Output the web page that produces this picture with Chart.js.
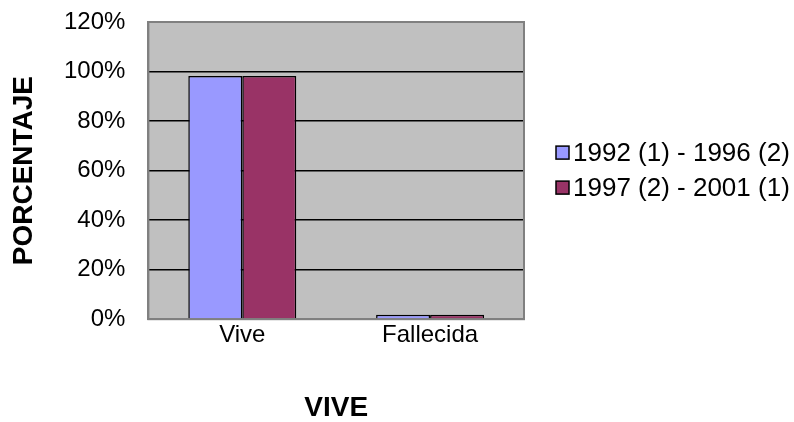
<html>
<head>
    <meta charset="utf-8">
    <title>Vive</title>
    <style>
        body { margin: 0; background: #fff; }
        #wrap { width: 794px; height: 422px; position: relative; }
    </style>
</head>
<body>
    <div id="wrap"><canvas id="myChart"></canvas></div>
</body>
<script src="https://cdn.jsdelivr.net/npm/chart.js"></script>
<script>
    const categories = ['Vive', 'Fallecida']
    const serie1 = [98.2, 1.8]   // 1992 (1) - 1996 (2)
    const serie2 = [98.2, 1.8]   // 1997 (2) - 2001 (1)
    const seriesNames = ['1992 (1) - 1996 (2)', '1997 (2) - 2001 (1)']
    const yTicks = [0, 20, 40, 60, 80, 100, 120]

    const FONT = "'Liberation Sans', Arial, sans-serif"
    Chart.defaults.font.family = FONT
    Chart.defaults.color = '#000'

    // grey plot area with a grey frame, like the old office chart
    const plotBack = {
        id: 'plotBack',
        beforeDraw(chart) {
            const { ctx, chartArea: a } = chart
            ctx.save()
            ctx.fillStyle = '#c0c0c0'
            ctx.fillRect(a.left, a.top, a.width, a.height)
            ctx.restore()
        },
        afterDraw(chart) {
            const { ctx, chartArea: a } = chart
            ctx.save()
            ctx.strokeStyle = '#808080'
            ctx.lineWidth = 2
            ctx.strokeRect(a.left, a.top, a.width, a.height)
            ctx.restore()
        }
    }

    // legend drawn by hand to the right of the plot (box close to the text)
    const sideLegend = {
        id: 'sideLegend',
        afterDraw(chart) {
            const { ctx, chartArea: a } = chart
            const x = a.right + 32
            const mid = (a.top + a.bottom) / 2
            const step = 35
            ctx.save()
            ctx.font = '26px ' + FONT
            ctx.textBaseline = 'middle'
            ctx.textAlign = 'left'
            chart.data.datasets.forEach((ds, i) => {
                const y = mid - step / 2 + i * step
                ctx.fillStyle = ds.backgroundColor
                ctx.fillRect(x, y - 7, 13, 13)
                ctx.strokeStyle = '#000'
                ctx.lineWidth = 1.5
                ctx.strokeRect(x, y - 7, 13, 13)
                ctx.fillStyle = '#000'
                ctx.fillText(ds.label, x + 17, y + 1)
            })
            ctx.restore()
        }
    }

    const ctx = document.getElementById('myChart').getContext('2d')
    new Chart(ctx, {
        type: 'bar',
        data: {
            labels: categories,
            datasets: [{
                label: seriesNames[0],
                data: serie1,
                backgroundColor: '#9999ff',
                borderColor: '#000',
                borderWidth: 1.5
            }, {
                label: seriesNames[1],
                data: serie2,
                backgroundColor: '#993366',
                borderColor: '#000',
                borderWidth: 1.5
            }]
        },
        options: {
            responsive: true,
            maintainAspectRatio: false,
            animation: false,
            datasets: { bar: { barPercentage: 1, categoryPercentage: 0.575 } },
            layout: { padding: { top: 22, left: 10, right: 270, bottom: 0 } },
            plugins: {
                tooltip: { enabled: false },
                legend: { display: false }
            },
            scales: {
                x: {
                    grid: { display: false, drawTicks: false },
                    border: { color: '#808080', width: 2 },
                    ticks: { font: { size: 24 }, padding: 2 },
                    title: {
                        display: true,
                        text: 'VIVE',
                        font: { size: 28, weight: 'bold', lineHeight: 1 },
                        padding: { top: 42, bottom: 0 }
                    }
                },
                y: {
                    min: 0,
                    max: 120,
                    afterBuildTicks: (axis) => { axis.ticks = yTicks.map(v => ({ value: v })) },
                    // tick padding would otherwise push the plot top down
                    afterFit: (axis) => { axis.paddingTop = 0 },
                    grid: {
                        color: (c) => (c.tick && (c.tick.value === 0 || c.tick.value === 120)) ? '#808080' : '#000',
                        lineWidth: 1.5,
                        drawTicks: false
                    },
                    border: { color: '#808080', width: 2 },
                    ticks: {
                        font: { size: 24 },
                        padding: 23,
                        callback: (v) => v + '%'
                    },
                    title: {
                        display: true,
                        text: 'PORCENTAJE',
                        font: { size: 28, weight: 'bold', lineHeight: 1 },
                        padding: { top: 0, bottom: 3 }
                    }
                }
            }
        },
        plugins: [plotBack, sideLegend]
    })
</script>
</html>
